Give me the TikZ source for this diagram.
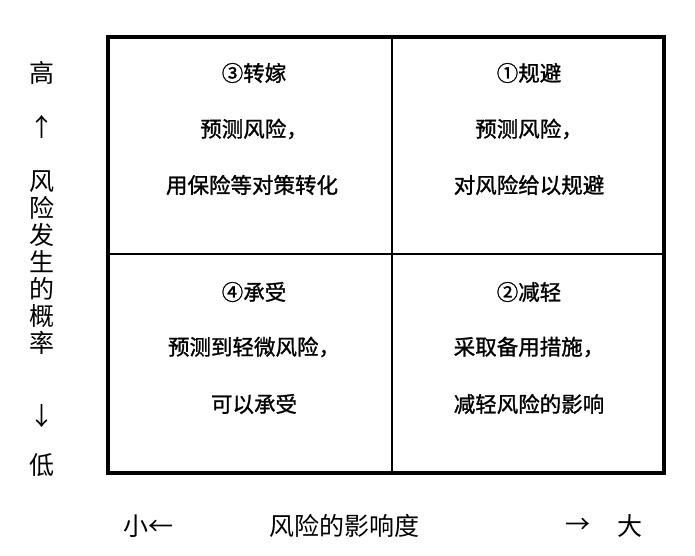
\documentclass[tikz,border=0pt]{standalone}
\usepackage{fontspec}
\setmainfont{Noto Sans CJK SC}
\newfontfamily\cellfont[FakeBold=1.2]{Noto Sans CJK SC}
\begin{document}
\begin{tikzpicture}[x=1pt,y=-1pt,
  outer/.style={draw=black,line width=3.5pt},
  inner/.style={draw=black,line width=1.5pt},
  cell/.style={font=\cellfont\fontsize{21.5}{23}\selectfont,anchor=center,inner sep=0pt},
  side/.style={font=\fontsize{25}{27}\selectfont,anchor=center,inner sep=0pt}]
\useasboundingbox (0,0) rectangle (695,556);
\fill[white] (0,0) rectangle (695,556);
% grid
\coordinate (tl) at (108,37);
\coordinate (br) at (664,473);
\coordinate (mt) at (392,37);
\coordinate (mb) at (392,473);
\coordinate (ml) at (108,254);
\coordinate (mr) at (664,254);
\draw[inner] (mt) -- (mb);
\draw[inner] (ml) -- (mr);
\draw[outer] (tl) rectangle (br);
% top-left
\node[cell] (a1) at (254,73) {③转嫁};
\node[cell] (a2) at (254,129) {预测风险，};
\node[cell] (a3) at (252,185) {用保险等对策转化};
% top-right
\node[cell] (b1) at (529,73) {①规避};
\node[cell] (b2) at (529,129) {预测风险，};
\node[cell] (b3) at (529,185) {对风险给以规避};
% bottom-left
\node[cell] (c1) at (254,292) {④承受};
\node[cell] (c2) at (254,347) {预测到轻微风险，};
\node[cell] (c3) at (254,404) {可以承受};
% bottom-right
\node[cell] (d1) at (529,292) {②减轻};
\node[cell] (d2) at (529,347) {采取备用措施，};
\node[cell] (d3) at (529,404) {减轻风险的影响};
% left axis
\node[side] (hi) at (42,73) {高};
\node[side] (up) at (42,127) {↑};
\node[side,align=center] (prob) at (42,263) {风\\险\\发\\生\\的\\概\\率};
\node[side] (dn) at (42,416) {↓};
\node[side] (lo) at (42,465) {低};
% bottom axis
\node[side] (small) at (148,526) {小←};
\node[side] (imp) at (344,526) {风险的影响度};
\node[side] (rt) at (578,526) {→};
\node[side] (big) at (630,526) {大};
\end{tikzpicture}
\end{document}
